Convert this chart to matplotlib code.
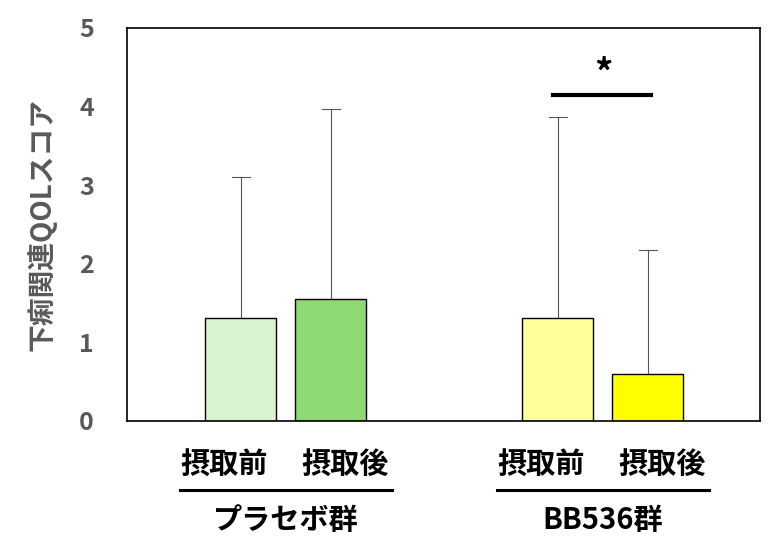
import matplotlib
matplotlib.use("Agg")
import matplotlib.pyplot as plt
from matplotlib.lines import Line2D

plt.rcParams['font.family'] = ['Noto Sans CJK JP', 'DejaVu Sans']

groups = ["プラセボ群", "BB536群"]
phases = ["摂取前", "摂取後"]
means = [1.31, 1.55, 1.31, 0.60]
errs_top = [3.10, 3.97, 3.87, 2.18]
colors = ["#d9f2d0", "#8fd974", "#ffff99", "#ffff00"]
positions = [1.26, 2.26, 4.78, 5.78]

fig = plt.figure(figsize=(7.76, 5.59), dpi=100)
ax = fig.add_axes([0.164, 0.247, 0.816, 0.703])
ax.bar(positions, means, width=0.79, color=colors, edgecolor="black", linewidth=1, zorder=2)
for x, m, e in zip(positions, means, errs_top):
    ax.plot([x, x], [m, e], color="#555555", lw=0.8, zorder=1)
    ax.plot([x - 0.1, x + 0.1], [e, e], color="#555555", lw=0.8, zorder=1)
ax.set_xlim(0, 7.03)
ax.set_ylim(0, 5)
ax.set_xticks([])
ax.set_yticks(range(6))
ax.tick_params(axis='y', length=0, labelsize=18, labelcolor="#595959", pad=24)
for t in ax.get_yticklabels():
    t.set_fontweight('bold')
for s in ax.spines.values():
    s.set_linewidth(1.2)
ax.set_ylabel("下痢関連QOLスコア", fontsize=20, color="#595959", fontweight='bold', labelpad=16)

# significance
ax.plot([positions[2] - 0.05, positions[3] + 0.03], [4.15, 4.15], color="black", lw=3)
ax.text((positions[2] + positions[3]) / 2, 4.17, "*", ha="center", va="bottom", fontsize=26, fontweight='bold')

tr = ax.get_xaxis_transform()
offs = [-0.19, 0.16]
for i, x in enumerate(positions):
    ax.text(x + offs[i % 2], -0.112, phases[i % 2], transform=tr, ha="center", va="center",
            fontsize=21, fontweight='bold', clip_on=False)
for g, (a, b) in enumerate([(0, 1), (2, 3)]):
    x0, x1 = positions[a] - 0.67, positions[b] + 0.68
    ax.add_line(Line2D([x0, x1], [-0.176, -0.176], transform=tr, color="black", lw=2.2, clip_on=False))
    ax.text((positions[a] + positions[b]) / 2, -0.252, groups[g], transform=tr, ha="center",
            va="center", fontsize=21, fontweight='bold', clip_on=False)

fig.savefig("out.png", dpi=100)
